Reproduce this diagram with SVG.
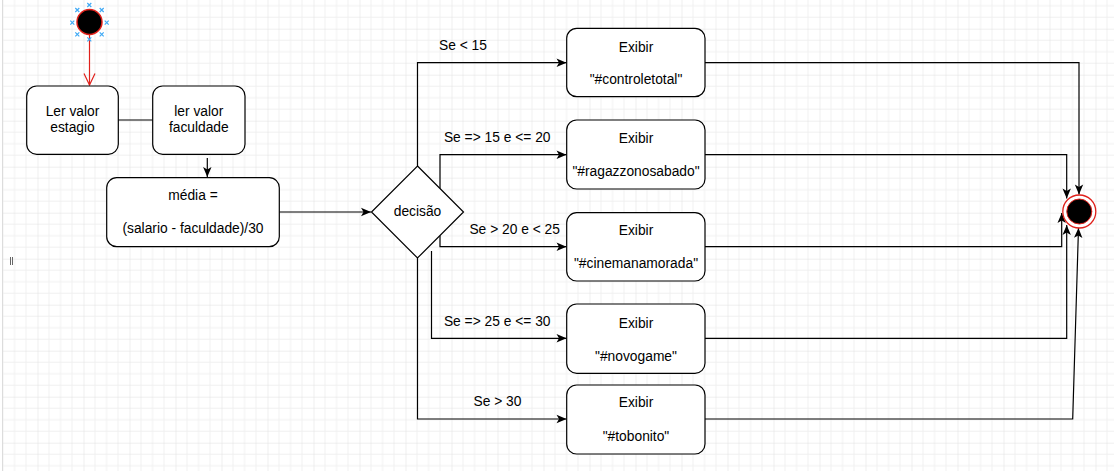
<svg xmlns="http://www.w3.org/2000/svg" width="1114" height="471" viewBox="0 0 1114 471">
<style>
  .box { fill: #ffffff; stroke: #000000; stroke-width: 1.2; }
  .t { font-family: "Liberation Sans", Arial, sans-serif; font-size: 13.8px; fill: #000000; text-anchor: middle; }
  .c { fill: none; stroke: #000000; stroke-width: 1.2; }
  .h { fill: none; stroke: #3fa9f5; stroke-width: 1.2; }
</style>
<defs>
  <pattern id="grid" patternUnits="userSpaceOnUse" x="37.5" y="28.7" width="46" height="46">
    <path d="M11.5,0 V46 M23,0 V46 M34.5,0 V46 M0,11.5 H46 M0,23 H46 M0,34.5 H46" stroke="#f0f0f0" stroke-width="1" fill="none"/>
    <path d="M0,0 V46 M0,0 H46" stroke="#e0e0e0" stroke-width="1" fill="none"/>
  </pattern>
  <marker id="arr" markerUnits="userSpaceOnUse" markerWidth="12" markerHeight="10" viewBox="0 0 12 10" refX="11" refY="5" orient="auto">
    <path d="M1,0.8 L11,5 L1,9.2 L3.5,5 Z" fill="#000000"/>
  </marker>
  <marker id="open" markerUnits="userSpaceOnUse" markerWidth="13" markerHeight="13" viewBox="0 0 13 13" refX="12" refY="6.5" orient="auto">
    <path d="M0.5,1 L12,6.5 L0.5,12" fill="none" stroke="#e0201b" stroke-width="1.2"/>
  </marker>
</defs>
<rect x="0" y="0" width="1114" height="471" fill="#ffffff"/>
<rect x="3" y="0" width="1111" height="471" fill="url(#grid)"/>
<line x1="2.5" y1="0" x2="2.5" y2="471" stroke="#dcdcdc" stroke-width="1"/>
<path d="M10.5,257 V265 M12.5,257 V265" stroke="#666666" stroke-width="1"/>

<g id="connectors">
  <path d="M89.5,35 V85" fill="none" stroke="#e0201b" stroke-width="1.2" marker-end="url(#open)"/>
  <path class="c" d="M118,120 H153"/>
  <path class="c" d="M207.3,158 V177" marker-end="url(#arr)"/>
  <path class="c" d="M279.3,212 H371" marker-end="url(#arr)"/>
  <path class="c" d="M417.5,166 V62.7 H566.5" marker-end="url(#arr)"/>
  <path class="c" d="M440,188.5 V154.7 H566.5" marker-end="url(#arr)"/>
  <path class="c" d="M440,235.5 V246.7 H566.5" marker-end="url(#arr)"/>
  <path class="c" d="M431.5,251 V338.3 H566.5" marker-end="url(#arr)"/>
  <path class="c" d="M417.5,258 V419 H566.5" marker-end="url(#arr)"/>
  <path class="c" d="M705,62.7 H1079 V194.5" marker-end="url(#arr)"/>
  <path class="c" d="M705,154.7 H1066.7 V198.5" marker-end="url(#arr)"/>
  <path class="c" d="M705,246.7 H1061.7 V213" marker-end="url(#arr)"/>
  <path class="c" d="M705,338.3 H1066.7 V225" marker-end="url(#arr)"/>
  <path class="c" d="M705,419 H1072.7 L1078.5,228" marker-end="url(#arr)"/>
</g>

<g id="start">
  <circle cx="89.5" cy="22" r="12.5" fill="#000000" stroke="#e0201b" stroke-width="1.5"/>
  <path class="h" d="M75.3,8 l4,4 m0,-4 l-4,4 M87.3,3 l4,4 m0,-4 l-4,4 M99.7,8 l4,4 m0,-4 l-4,4 M70.3,20.7 l4,4 m0,-4 l-4,4 M104.7,20.7 l4,4 m0,-4 l-4,4 M75.3,32.3 l4,4 m0,-4 l-4,4 M87.3,37.3 l4,4 m0,-4 l-4,4 M99.7,32.3 l4,4 m0,-4 l-4,4"/>
</g>

<g id="ler-estagio">
  <rect class="box" x="26.7" y="86" width="91.6" height="68.3" rx="10"/>
  <text class="t" x="72.5" y="116">Ler valor</text>
  <text class="t" x="72.5" y="132">estagio</text>
</g>

<g id="ler-faculdade">
  <rect class="box" x="152.7" y="86" width="92.3" height="68.3" rx="10"/>
  <text class="t" x="198.8" y="116">ler valor</text>
  <text class="t" x="198.8" y="132">faculdade</text>
</g>

<g id="media">
  <rect class="box" x="106.7" y="177.7" width="172.6" height="69" rx="10"/>
  <text class="t" x="193" y="200">média =</text>
  <text class="t" x="193" y="233">(salario - faculdade)/30</text>
</g>

<g id="decisao">
  <path class="box" d="M417.5,166 L463.5,212 L417.5,258 L371.5,212 Z"/>
  <text class="t" x="417.5" y="216">decisão</text>
</g>

<g id="labels">
  <text class="t" x="463" y="50">Se &lt; 15</text>
  <text class="t" x="497.2" y="141.7">Se =&gt; 15 e &lt;= 20</text>
  <text class="t" x="514.7" y="234.3">Se &gt; 20 e &lt; 25</text>
  <text class="t" x="497.2" y="326">Se =&gt; 25 e &lt;= 30</text>
  <text class="t" x="497.5" y="406">Se &gt; 30</text>
</g>

<g id="exibir-controletotal">
  <rect class="box" x="566.7" y="28.3" width="138.3" height="68.4" rx="10"/>
  <text class="t" x="636" y="51.7">Exibir</text>
  <text class="t" x="636" y="84">"#controletotal"</text>
</g>

<g id="exibir-ragazzonosabado">
  <rect class="box" x="566.7" y="120" width="138.3" height="69" rx="10"/>
  <text class="t" x="636" y="143.3">Exibir</text>
  <text class="t" x="636" y="175.7">"#ragazzonosabado"</text>
</g>

<g id="exibir-cinemanamorada">
  <rect class="box" x="566.7" y="212.7" width="138.3" height="68.3" rx="10"/>
  <text class="t" x="636" y="235">Exibir</text>
  <text class="t" x="636" y="267.7">"#cinemanamorada"</text>
</g>

<g id="exibir-novogame">
  <rect class="box" x="566.7" y="304" width="138.3" height="69.3" rx="10"/>
  <text class="t" x="636" y="327.7">Exibir</text>
  <text class="t" x="636" y="360.7">"#novogame"</text>
</g>

<g id="exibir-tobonito">
  <rect class="box" x="566.7" y="385" width="138.3" height="69" rx="10"/>
  <text class="t" x="636" y="407.3">Exibir</text>
  <text class="t" x="636" y="440.7">"#tobonito"</text>
</g>

<g id="end">
  <circle cx="1079.3" cy="211.5" r="16.5" fill="#ffffff" stroke="#e0201b" stroke-width="1.3"/>
  <circle cx="1079.3" cy="211.5" r="12.5" fill="#000000" stroke="#e0201b" stroke-width="1"/>
</g>
</svg>
